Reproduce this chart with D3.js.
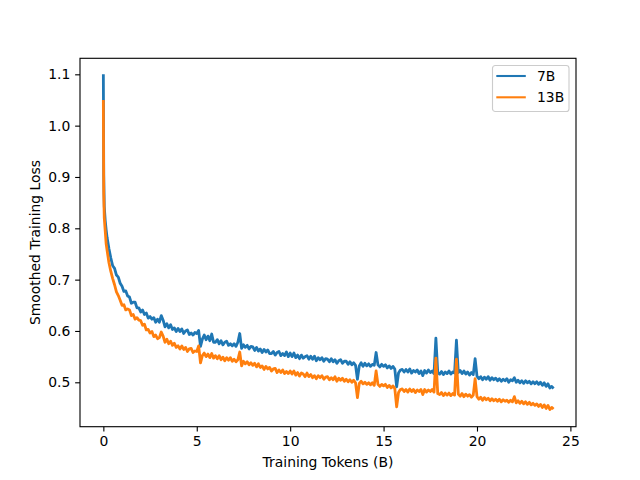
<!DOCTYPE html>
<html>
<head>
<meta charset="utf-8">
<script src="https://cdn.jsdelivr.net/npm/d3@7"></script>
<style>
  body { margin: 0; background: #fff; }
  text { font-family: "DejaVu Sans", sans-serif; }
</style>
</head>
<body>
<script>
// training tokens (billions), shared by both runs
const tokens = [
  0, 0.02, 0.05, 0.1, 0.15, 0.2, 0.3, 0.4, 0.5, 0.6, 0.7, 0.8, 0.9,
  1.0, 1.1, 1.2, 1.3, 1.4, 1.5, 1.6, 1.7, 1.8, 1.9,
  2.0, 2.1, 2.2, 2.3, 2.4, 2.5, 2.6, 2.7, 2.8, 2.9,
  3.0, 3.1, 3.2, 3.3, 3.4, 3.5, 3.6, 3.7, 3.8, 3.9,
  4.0, 4.1, 4.2, 4.3, 4.4, 4.5, 4.6, 4.7, 4.8, 4.9,
  5.0, 5.1, 5.2, 5.3, 5.4, 5.5, 5.6, 5.7, 5.8, 5.9,
  6.0, 6.1, 6.2, 6.3, 6.4, 6.5, 6.6, 6.7, 6.8, 6.9,
  7.0, 7.1, 7.2, 7.3, 7.4, 7.5, 7.6, 7.7, 7.8, 7.9,
  8.0, 8.1, 8.2, 8.3, 8.4, 8.5, 8.6, 8.7, 8.8, 8.9,
  9.0, 9.1, 9.2, 9.3, 9.4, 9.5, 9.6, 9.7, 9.8, 9.9,
  10.0, 10.1, 10.2, 10.3, 10.4, 10.5, 10.6, 10.7, 10.8, 10.9,
  11.0, 11.1, 11.2, 11.3, 11.4, 11.5, 11.6, 11.7, 11.8, 11.9,
  12.0, 12.1, 12.2, 12.3, 12.4, 12.5, 12.6, 12.7, 12.8, 12.9,
  13.0, 13.1, 13.2, 13.3, 13.4, 13.5, 13.6, 13.7, 13.8, 13.9,
  14.0, 14.1, 14.2, 14.3, 14.4, 14.5, 14.6, 14.7, 14.8, 14.9,
  15.0, 15.1, 15.2, 15.3, 15.4, 15.5, 15.6, 15.7, 15.8, 15.9,
  16.0, 16.1, 16.2, 16.3, 16.4, 16.5, 16.6, 16.7, 16.8, 16.9,
  17.0, 17.1, 17.2, 17.3, 17.4, 17.5, 17.6, 17.7, 17.8, 17.9,
  18.0, 18.1, 18.2, 18.3, 18.4, 18.5, 18.6, 18.7, 18.8, 18.9,
  19.0, 19.1, 19.2, 19.3, 19.4, 19.5, 19.6, 19.7, 19.8, 19.9,
  20.0, 20.1, 20.2, 20.3, 20.4, 20.5, 20.6, 20.7, 20.8, 20.9,
  21.0, 21.1, 21.2, 21.3, 21.4, 21.5, 21.6, 21.7, 21.8, 21.9,
  22.0, 22.1, 22.2, 22.3, 22.4, 22.5, 22.6, 22.7, 22.8, 22.9,
  23.0, 23.1, 23.2, 23.3, 23.4, 23.5, 23.6, 23.7, 23.8, 23.9,
  24.0, 24.1
];

const loss7B = [
  1.100, 0.905, 0.842, 0.815, 0.797, 0.782, 0.760, 0.742, 0.727, 0.722, 0.709, 0.705, 0.693,
  .687, .677, .678, .668, .666, .654, .656, .656, .645, .645,
  .637, .641, .632, .635, .625, .628, .623, .626, .617, .623,
  .617, .630, .621, .608, .614, .606, .612, .603, .606, .599,
  .605, .599, .604, .595, .600, .602, .593, .596, .592, .597,
  .595, .601, .570, .584, .592, .583, .590, .581, .594, .578,
  .578, .583, .575, .581, .573, .578, .580, .572, .575, .571,
  .575, .570, .578, .595, .566, .573, .568, .572, .565, .570,
  .569, .562, .568, .561, .565, .558, .564, .559, .563, .556,
  .556, .560, .553, .558, .560, .552, .556, .552, .559, .550,
  .557, .550, .557, .548, .553, .546, .553, .547, .550, .552,
  .545, .551, .545, .551, .542, .548, .544, .548, .541, .546,
  .545, .540, .546, .540, .544, .537, .542, .544, .537, .541,
  .541, .535, .540, .534, .538, .533, .506, .532, .538, .531,
  .537, .532, .536, .531, .535, .533, .558, .534, .530, .535,
  .531, .534, .528, .532, .527, .531, .526, .491, .518, .524,
  .525, .520, .525, .520, .526, .518, .523, .520, .524, .517,
  .522, .513, .523, .518, .524, .519, .522, .517, .586, .519,
  .516, .521, .515, .520, .517, .522, .516, .520, .518, .582,
  .519, .523, .517, .522, .516, .520, .514, .519, .515, .546,
  .512, .507, .511, .505, .510, .506, .511, .504, .509, .505,
  .508, .503, .507, .502, .506, .503, .507, .500, .505, .503,
  .509, .500, .504, .499, .503, .498, .503, .499, .502, .497,
  .501, .497, .501, .496, .500, .494, .499, .492, .497, .489,
  .492, .488
];

const loss13B = [
  1.050, 0.870, 0.820, 0.795, 0.770, 0.757, 0.733, 0.716, 0.702, 0.690, 0.676, 0.669, 0.660,
  .650, .651, .641, .643, .641, .630, .632, .623, .626, .621,
  .620, .611, .613, .602, .603, .596, .599, .589, .592, .585,
  .587, .598, .590, .578, .584, .575, .580, .572, .576, .568,
  .571, .565, .571, .564, .568, .560, .565, .566, .558, .561,
  .560, .571, .538, .552, .557, .550, .555, .548, .556, .547,
  .552, .546, .552, .544, .549, .542, .548, .543, .548, .541,
  .545, .540, .544, .559, .532, .541, .536, .540, .534, .538,
  .533, .537, .530, .536, .529, .532, .525, .531, .526, .529,
  .522, .526, .527, .519, .524, .519, .524, .517, .521, .517,
  .522, .516, .522, .514, .519, .512, .518, .516, .511, .518,
  .511, .515, .509, .513, .507, .513, .509, .513, .506, .510,
  .511, .505, .509, .505, .511, .502, .508, .504, .508, .502,
  .506, .501, .505, .500, .504, .499, .470, .498, .502, .497,
  .500, .496, .499, .495, .499, .494, .522, .496, .492, .496,
  .493, .496, .490, .494, .489, .493, .488, .452, .480, .486,
  .487, .482, .486, .481, .487, .482, .486, .480, .485, .482,
  .486, .476, .486, .481, .485, .482, .486, .481, .547, .478,
  .476, .480, .474, .479, .475, .479, .474, .478, .475, .545,
  .477, .473, .478, .472, .477, .473, .476, .471, .475, .507,
  .472, .467, .471, .465, .470, .466, .469, .464, .468, .464,
  .467, .463, .467, .462, .466, .463, .465, .461, .465, .462,
  .472, .460, .464, .459, .463, .458, .462, .457, .461, .456,
  .459, .455, .458, .453, .457, .451, .456, .449, .455, .447,
  .451, .448
];

const seriesNames = ['7B', '13B'];
const seriesColors = ['#1f77b4', '#ff7f0e'];
const xTicks = [0, 5, 10, 15, 20, 25];
const yTicks = [0.5, 0.6, 0.7, 0.8, 0.9, 1.0, 1.1];

const width = 640;
const height = 480;
const margin = { top: 58.3, right: 64, bottom: 53.3, left: 80 };

const svg = d3.select('body')
  .append('svg')
  .attr('width', width)
  .attr('height', height);

svg.append('rect')
  .attr('width', width)
  .attr('height', height)
  .attr('fill', '#fff');

const x = d3.scaleLinear()
  .domain([-1.25, 25.3])
  .range([margin.left, width - margin.right]);

const y = d3.scaleLinear()
  .domain([0.4135, 1.1312])
  .range([height - margin.bottom, margin.top]);

const series = [loss7B, loss13B].map((values, i) => ({
  name: seriesNames[i],
  color: seriesColors[i],
  points: values.map((v, j) => [tokens[j], v])
}));

const line = d3.line()
  .x(d => x(d[0]))
  .y(d => y(d[1]));

// the original is a dense noisy trace, so draw a bit heavier than 1.5pt
svg.append('g')
  .selectAll('path')
  .data(series)
  .join('path')
  .attr('d', d => line(d.points))
  .attr('fill', 'none')
  .attr('stroke', d => d.color)
  .attr('stroke-width', 2.8)
  .attr('stroke-linejoin', 'round');

// axes, matplotlib-ish: 3.5pt ticks, 3.5pt pad, 10pt labels
const tickLen = 4.86;

const xAxis = svg.append('g')
  .attr('transform', `translate(0,${height - margin.bottom})`)
  .call(d3.axisBottom(x).tickValues(xTicks).tickFormat(d3.format('d'))
    .tickSize(tickLen).tickPadding(tickLen).tickSizeOuter(0));

const yAxis = svg.append('g')
  .attr('transform', `translate(${margin.left},0)`)
  .call(d3.axisLeft(y).tickValues(yTicks).tickFormat(d3.format('.1f'))
    .tickSize(tickLen).tickPadding(tickLen).tickSizeOuter(0));

[xAxis, yAxis].forEach(g => {
  g.select('.domain').remove();
  g.selectAll('line').attr('stroke', '#000').attr('stroke-width', 1.11);
  g.selectAll('text')
    .attr('fill', '#000')
    .style('font-family', '"DejaVu Sans", sans-serif')
    .style('font-size', '13.9px');
});

svg.append('rect')
  .attr('x', margin.left)
  .attr('y', margin.top)
  .attr('width', width - margin.left - margin.right)
  .attr('height', height - margin.top - margin.bottom)
  .attr('fill', 'none')
  .attr('stroke', '#000')
  .attr('stroke-width', 1.11);

svg.append('text')
  .attr('x', (margin.left + width - margin.right) / 2)
  .attr('y', 466.7)
  .attr('text-anchor', 'middle')
  .style('font-size', '13.9px')
  .text('Training Tokens (B)');

svg.append('text')
  .attr('transform', `translate(39.5,${(margin.top + height - margin.bottom) / 2}) rotate(-90)`)
  .attr('text-anchor', 'middle')
  .style('font-size', '13.9px')
  .text('Smoothed Training Loss');

// legend
const legend = svg.append('g')
  .attr('transform', 'translate(492.5,65.5)');

legend.append('rect')
  .attr('width', 76.5)
  .attr('height', 46)
  .attr('rx', 2.8)
  .attr('fill', 'rgba(255,255,255,0.8)')
  .attr('stroke', '#ccc')
  .attr('stroke-width', 1.11);

const item = legend.selectAll('g.item')
  .data(series)
  .join('g')
  .attr('class', 'item')
  .attr('transform', (d, i) => `translate(0,${10.5 + i * 21.3})`);

item.append('line')
  .attr('x1', 3.8)
  .attr('x2', 33.3)
  .attr('stroke', d => d.color)
  .attr('stroke-width', 2.08);

item.append('text')
  .attr('x', 44.5)
  .attr('dy', '0.36em')
  .style('font-size', '13.9px')
  .text(d => d.name);
</script>
</body>
</html>
